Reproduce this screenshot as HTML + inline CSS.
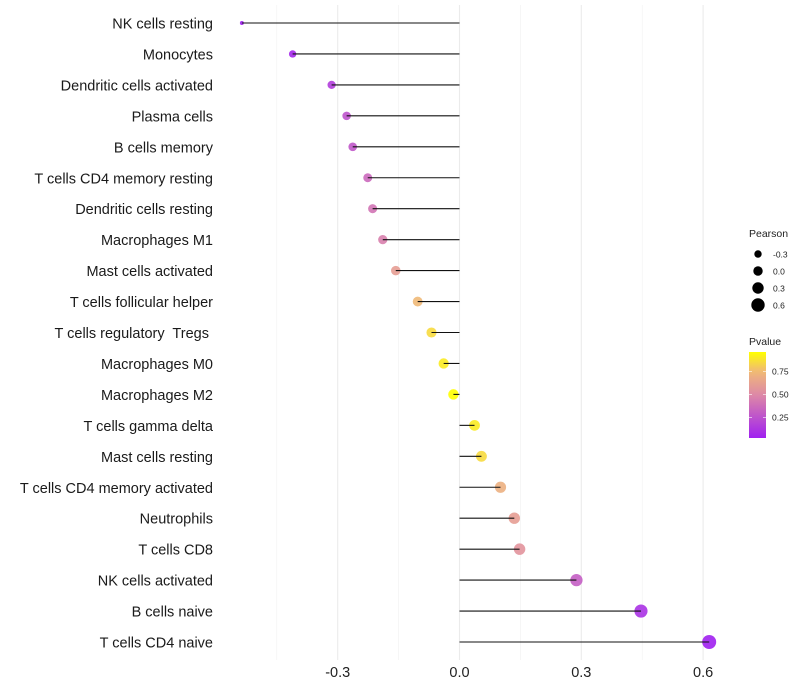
<!DOCTYPE html>
<html><head><meta charset="utf-8"><style>
html,body{margin:0;padding:0;background:#fff;}
svg{display:block;font-family:"Liberation Sans",sans-serif;}
text{white-space:pre;}
</style></head><body>
<svg id="chart" width="800" height="700"></svg>
<script>
const categories=["NK cells resting","Monocytes","Dendritic cells activated","Plasma cells","B cells memory","T cells CD4 memory resting","Dendritic cells resting","Macrophages M1","Mast cells activated","T cells follicular helper","T cells regulatory  Tregs ","Macrophages M0","Macrophages M2","T cells gamma delta","Mast cells resting","T cells CD4 memory activated","Neutrophils","T cells CD8","NK cells activated","B cells naive","T cells CD4 naive"];
const pearson=[-0.536,-0.411,-0.315,-0.278,-0.263,-0.226,-0.214,-0.189,-0.157,-0.103,-0.069,-0.039,-0.015,0.037,0.054,0.101,0.135,0.148,0.288,0.447,0.615];
const pvalue=[0.01,0.05,0.15,0.25,0.27,0.35,0.4,0.45,0.6,0.75,0.85,0.9,0.96,0.9,0.85,0.7,0.6,0.55,0.3,0.1,0.02];
const xTicks=[-0.3,0,0.3,0.6];
const xTickLabels=["-0.3","0.0","0.3","0.6"];
const xMinor=[-0.45,-0.15,0.15,0.45];
const sizeLegend=[-0.3,0.0,0.3,0.6];
const sizeLegendLabels=["-0.3","0.0","0.3","0.6"];
const colorLegend=[0.75,0.5,0.25];
const colorLegendLabels=["0.75","0.50","0.25"];

const NS="http://www.w3.org/2000/svg";
const svg=document.getElementById('chart');
const x=v=>459.5+v*406;
const y=i=>23+i*30.95;
const r=v=>v<-0.5?2:Math.sqrt(Math.max(4,27.8+34.4*v));
function lerp(a,b,t){return a.map((c,i)=>Math.round(c+(b[i]-c)*t));}
function col(p){
  const s=[[0.02,[160,32,240]],[0.5,[222,138,165]],[0.75,[240,185,120]],[0.96,[255,255,0]]];
  if(p<=s[0][0])return `rgb(${s[0][1]})`;
  for(let k=0;k<s.length-1;k++){if(p<=s[k+1][0]){const t=(p-s[k][0])/(s[k+1][0]-s[k][0]);return `rgb(${lerp(s[k][1],s[k+1][1],t)})`;}}
  return `rgb(${s[3][1]})`;
}
function el(t,a,p){const e=document.createElementNS(NS,t);for(const k in a)e.setAttribute(k,a[k]);(p||svg).appendChild(e);return e;}

xMinor.forEach(v=>{const g=el('line',{x1:x(v),x2:x(v),y1:5,y2:660,stroke:'#f0f0f0','stroke-width':0.6});

});
xTicks.forEach((v,i)=>{const g=el('line',{x1:x(v),x2:x(v),y1:5,y2:660,stroke:'#ebebeb','stroke-width':1.1});


const t=el('text',{x:x(v),y:677,'text-anchor':'middle','font-size':14.5,fill:'#222'});t.textContent=xTickLabels[i];

});

categories.forEach((c,i)=>{
  const t=el('text',{x:213,y:y(i)+5.5,'text-anchor':'end','font-size':14.5,fill:'#1a1a1a'});t.textContent=c;
  
  
  const pt=el('circle',{cx:x(pearson[i]),cy:y(i),r:r(pearson[i]),fill:col(pvalue[i]),'fill-opacity':0.9});
  
  
  const ln=el('line',{x1:x(0),x2:x(pearson[i]),y1:y(i),y2:y(i),stroke:'#111','stroke-width':1.1});
  
  
});

const lt=el('text',{x:749,y:237,'font-size':10.5,fill:'#222'});lt.textContent='Pearson';


sizeLegend.forEach((v,i)=>{const cy=254+i*17;
  const c=el('circle',{cx:758,cy:cy,r:3.7+1*i,fill:'#000'});
  
  
  const t=el('text',{x:773,y:cy+3.5,'font-size':8.5,fill:'#222'});t.textContent=sizeLegendLabels[i];
  
  });

const ct=el('text',{x:749,y:345,'font-size':10.5,fill:'#222'});ct.textContent='Pvalue';


const defs=el('defs',{});
const gr=el('linearGradient',{id:'pg',x1:0,y1:1,x2:0,y2:0},defs);
for(let k=0;k<=10;k++){const p=0.02+k*0.094;el('stop',{offset:k/10,'stop-color':col(p)},gr);}
const bar=el('rect',{x:749,y:352,width:17,height:86,fill:'url(#pg)'});


colorLegend.forEach((v,i)=>{const yy=352+(0.96-v)*92;
  el('line',{x1:749,x2:752,y1:yy,y2:yy,stroke:'#fff','stroke-width':0.6});
  el('line',{x1:763,x2:766,y1:yy,y2:yy,stroke:'#fff','stroke-width':0.6});
  const t=el('text',{x:772,y:yy+3,'font-size':8.5,fill:'#222'});t.textContent=colorLegendLabels[i];
  
  });
</script>
</body></html>
